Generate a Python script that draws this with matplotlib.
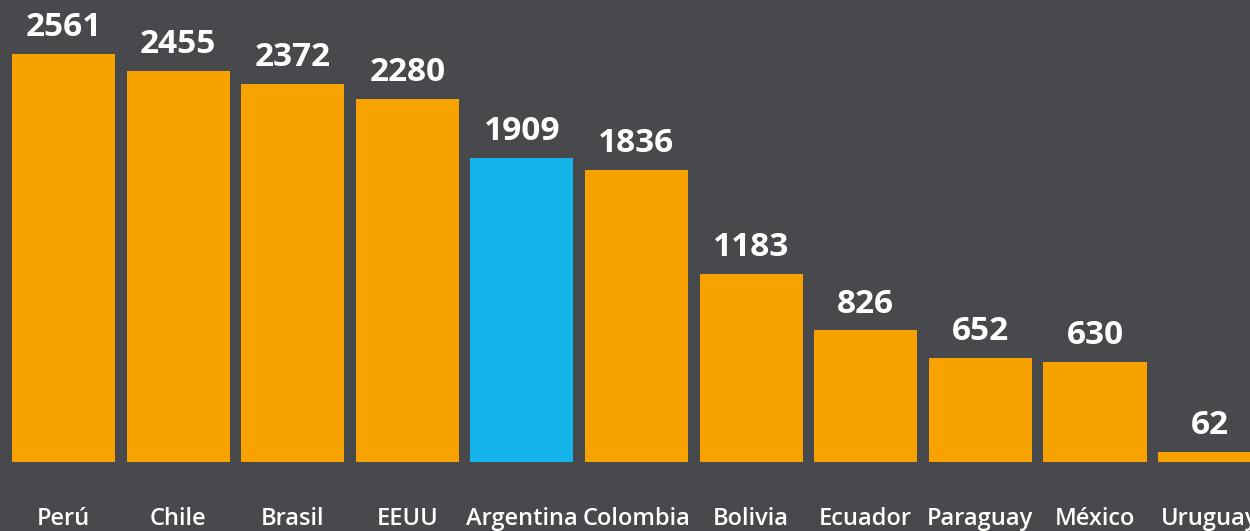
import matplotlib.pyplot as plt

# datos
paises = ["Perú", "Chile", "Brasil", "EEUU", "Argentina", "Colombia",
          "Bolivia", "Ecuador", "Paraguay", "México", "Uruguay"]
valores = [2561, 2455, 2372, 2280, 1909, 1836, 1183, 826, 652, 630, 62]

fondo = "#48494d"
naranja = "#f8a200"
celeste = "#15b4eb"
colores = [celeste if p == "Argentina" else naranja for p in paises]

plt.rcParams['font.family'] = ['Open Sans', 'DejaVu Sans']

fig = plt.figure(figsize=(12.5, 5.31), dpi=100, facecolor=fondo)
ax = fig.add_axes([0, 0, 1, 1])
ax.set_facecolor(fondo)

x = list(range(len(paises)))
barras = ax.bar(x, valores, width=0.9, color=colores)

# valores arriba de cada barra
for xi, v in zip(x, valores):
    ax.annotate(str(v), (xi, v), xytext=(0, 7), textcoords="offset points",
                ha="center", va="bottom", color="white", fontsize=24,
                fontweight="bold")

# nombres de los paises abajo
for xi, p in zip(x, paises):
    ax.text(xi, -357, p, ha="center", va="center", color="white",
            fontsize=17, fontweight="semibold")

ax.set_xlim(-0.554, 10.353)
ax.set_ylim(-433, 2900)
ax.axis("off")

fig.savefig("out.png", facecolor=fondo)
